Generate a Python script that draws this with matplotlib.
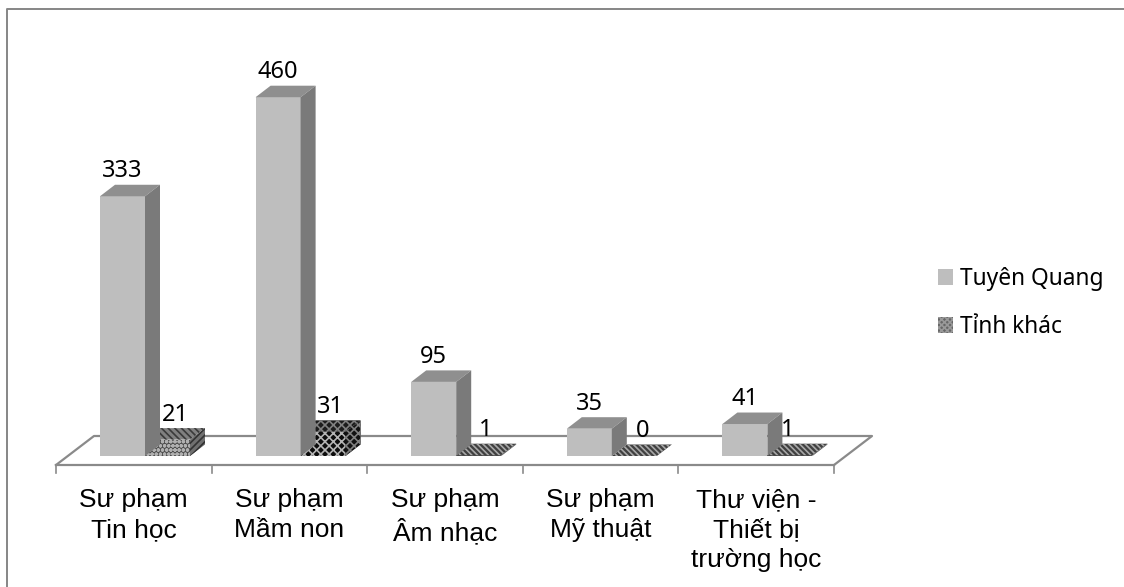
import matplotlib
matplotlib.use('Agg')
import matplotlib.pyplot as plt
from matplotlib.patches import Patch, Polygon

categories = ['Sư phạm\nTin học', 'Sư phạm\nMầm non', 'Sư phạm\nÂm nhạc', 'Sư phạm\nMỹ thuật',
              'Thư viện -\nThiết bị\ntrường học']
tuyen_quang = [333, 460, 95, 35, 41]
tinh_khac = [21, 31, 1, 0, 1]
series_names = ['Tuyên Quang', 'Tỉnh khác']

W, H = 1124, 587
# pixel scale of the plot
PX_CAT = 155.6
PX_VAL = 0.78
X0_PX, Y0_PX = 56, 456
DX = 15 / PX_CAT
DY = 11.5 / PX_VAL
BAR_W = 45 / PX_CAT
BAR_OFF = 44 / PX_CAT

GRID = '#8a8a8a'
LIGHT = '#bebebe'
SIDE = '#7a7a7a'
TOP = '#8f8f8f'

plt.rcParams['hatch.linewidth'] = 1.2
LABEL_FONT = ['Noto Sans', 'DejaVu Sans']

fig = plt.figure(figsize=(W / 100, H / 100), dpi=100)
ax = fig.add_axes([0, 0, 1, 1])
ax.set_xlim(-X0_PX / PX_CAT, (W - X0_PX) / PX_CAT)
ax.set_ylim(-(H - Y0_PX) / PX_VAL, Y0_PX / PX_VAL)
ax.axis('off')


def px(x, y):
    return (x - X0_PX) / PX_CAT, (Y0_PX - y) / PX_VAL


# chart frame, only top and left are visible
ax.plot(*zip(px(6.5, H), px(6.5, 8.5), px(W, 8.5)), color='#868686', lw=1.4, zorder=0)

# floor of the 3d plot
n = len(categories)
front = -9 / PX_VAL
back = 20 / PX_VAL
skew = 38 / PX_CAT
ax.plot([0, skew, n + skew, n], [front, back, back, front], color=GRID, lw=1.6, zorder=1)
ax.plot([0, n], [front, front], color=GRID, lw=1.6, zorder=1)
for i in range(n + 1):
    ax.plot([i, i], [front, front - 8 / PX_VAL], color=GRID, lw=1.2, zorder=1)
    if i < n:
        ax.text(i + 0.5, front - 23 / PX_VAL, categories[i], ha='center', va='top', fontsize=19,
                family='Liberation Sans', linespacing=1.31, color='black')


def box(x, val, front_style, top_style, side_style, z):
    ax.bar(x, val, BAR_W, align='edge', zorder=z, linewidth=0, **front_style)
    r = x + BAR_W
    ax.add_patch(Polygon([(x, val), (r, val), (r + DX, val + DY), (x + DX, val + DY)], closed=True,
                         lw=0, zorder=z, **top_style))
    ax.add_patch(Polygon([(r, 0), (r + DX, DY), (r + DX, val + DY), (r, val)], closed=True,
                         lw=0, zorder=z, **side_style))


tk_styles = [
    ({'color': '#4e4e4e', 'hatch': 'oooo', 'edgecolor': '#b0b0b0'},
     {'facecolor': '#808080', 'hatch': '\\\\\\\\\\', 'edgecolor': '#3a3a3a'},
     {'facecolor': '#707070', 'hatch': '/////', 'edgecolor': '#333333'}),
    ({'color': '#0c0c0c', 'hatch': 'xxxx', 'edgecolor': '#b4b4b4'},
     {'facecolor': '#1c1c1c', 'hatch': 'xxxx', 'edgecolor': '#808080'},
     {'facecolor': '#111111', 'hatch': 'xxxx', 'edgecolor': '#808080'}),
]
flat_style = ({'color': '#4a4a4a'},
              {'facecolor': '#404040', 'hatch': '\\\\\\\\\\\\', 'edgecolor': '#a8a8a8'},
              {'facecolor': '#4a4a4a'})
# the data labels of the small series are not centred the same way on every box
tk_label_dx = [8, 7, 7, 8, -2]

for i in range(n):
    x1 = i + BAR_OFF
    x2 = x1 + BAR_W
    box(x2, tinh_khac[i], *(tk_styles[i] if i < len(tk_styles) else flat_style), z=3)
    box(x1, tuyen_quang[i], {'color': LIGHT}, {'facecolor': TOP}, {'facecolor': SIDE}, z=4)
    ax.text(x1 + BAR_W / 2, tuyen_quang[i] + DY + 13.5 / PX_VAL, str(tuyen_quang[i]), ha='center',
            va='center', fontsize=17, family=LABEL_FONT, color='black', zorder=6)
    ax.text(x2 + BAR_W / 2 + tk_label_dx[i] / PX_CAT, tinh_khac[i] + DY + 13.5 / PX_VAL, str(tinh_khac[i]),
            ha='center', va='center', fontsize=17, family=LABEL_FONT, color='black', zorder=6)

handles = [Patch(facecolor=LIGHT, lw=0, label=series_names[0]),
           Patch(facecolor='#666666', hatch='xxxxxx', edgecolor='#999999', lw=0, label=series_names[1])]
ax.legend(handles=handles, loc='center left', bbox_to_anchor=(929 / W, 1 - 303 / H), frameon=False,
          handlelength=0.66, handleheight=0.66, handletextpad=0.3, labelspacing=1.05,
          prop={'family': LABEL_FONT, 'size': 16.4}, borderpad=0, borderaxespad=0.4)

fig.savefig('out.png', dpi=100, facecolor='white')
